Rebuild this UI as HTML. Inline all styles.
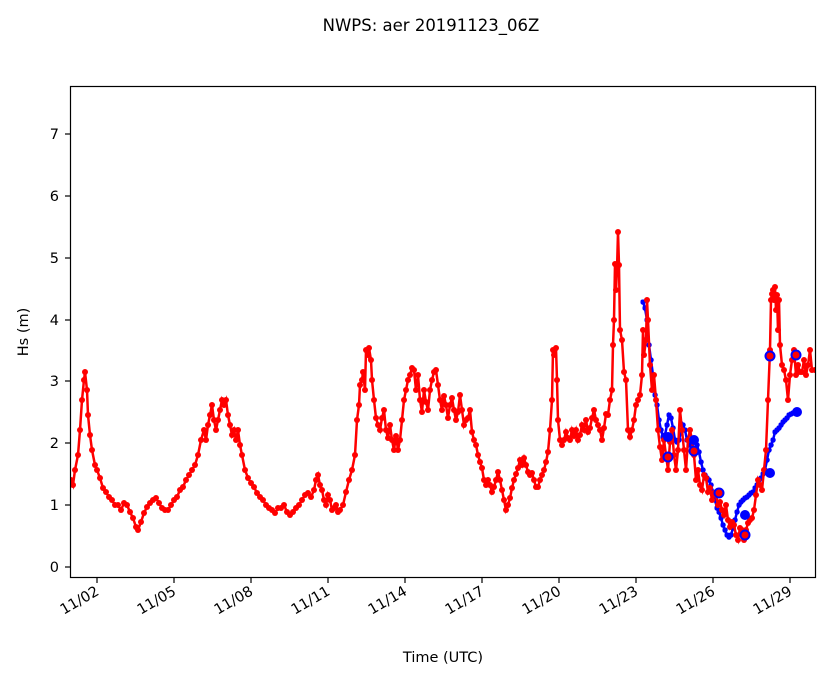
<!DOCTYPE html>
<html><head><style>body{margin:0;background:#fff}svg{display:block}text{font-family:"DejaVu Sans","Liberation Sans",sans-serif;fill:#000}</style></head><body>
<svg width="833" height="681" viewBox="0 0 833 681" xmlns="http://www.w3.org/2000/svg">
<defs>
<marker id="r" viewBox="-3 -3 6 6" markerWidth="6" markerHeight="6" markerUnits="userSpaceOnUse"><circle r="3" fill="red"/></marker>
<marker id="b" viewBox="-3 -3 6 6" markerWidth="5.5" markerHeight="5.5" markerUnits="userSpaceOnUse"><circle r="3" fill="blue"/></marker>
</defs>
<text x="431" y="31" font-size="16.5" text-anchor="middle">NWPS: aer 20191123_06Z</text>
<polyline fill="none" stroke="blue" stroke-width="2.5" marker-mid="url(#b)" marker-start="url(#b)" marker-end="url(#b)" points="643,302 645,308 647,320 649,345 651,360 653,375 655,395 657,405 659,420 661,430 663,437 665,435 667,425 669,415 671,418 673,428 675,440 677,442 679,440 681,432 683,425 685,430 687,440 689,445 691,442 693,438 695,440 697,445 699,452 701,462 703,470 705,475 707,478 709,480 711,485 713,492 715,500 717,508 719,512 721,518 723,525 725,530 727,535 729,537 731,535 733,528 735,520 737,512 739,505 741,502 743,500 745,498 747,497 749,495 751,493 753,492 755,488 757,485 759,480 761,478 763,474 765,470 767,460 769,450 771,445 773,440 775,432 777,430 779,428 781,425 783,422 785,420 787,418 789,415 791,414 793,413 797,412"/>
<polyline fill="none" stroke="red" stroke-width="2.5" marker-mid="url(#r)" marker-start="url(#r)" marker-end="url(#r)" points="71,480 73,485 75,470 78,455 80,430 82,400 84,380 85,372 87,390 88,415 90,435 92,450 95,465 97,470 100,478 103,488 106,492 109,497 112,500 115,505 118,505 121,510 124,503 127,505 130,512 133,518 136,527 138,530 141,522 144,513 147,507 150,503 153,500 156,498 159,503 162,508 165,510 168,510 171,505 174,500 177,497 180,490 183,487 186,480 189,475 192,470 195,465 198,455 201,440 204,430 206,440 208,425 210,415 212,405 214,420 216,430 218,420 220,410 222,400 224,405 226,400 228,415 230,425 232,435 234,430 236,440 238,430 240,445 242,455 245,470 248,478 251,483 254,487 257,493 260,497 263,500 266,505 269,508 272,510 275,513 278,508 281,508 284,505 287,512 290,515 293,512 296,508 299,505 302,500 305,495 308,493 311,497 314,490 316,480 318,475 320,485 322,490 324,500 326,505 328,495 330,500 332,510 334,508 336,505 338,512 340,510 343,505 346,492 349,480 352,470 355,455 357,420 359,405 360,385 362,380 363,372 365,390 366,350 368,355 369,348 371,360 372,380 374,400 376,418 378,425 380,430 382,418 384,410 386,430 388,438 390,425 392,440 394,450 396,436 398,450 400,440 402,420 404,400 406,390 408,380 410,375 412,368 414,370 416,390 418,375 420,400 422,412 424,390 426,402 428,410 430,390 432,380 434,372 436,370 438,385 440,400 442,410 444,396 446,405 448,418 450,405 452,398 454,410 456,420 458,412 460,395 462,410 464,425 466,420 468,418 470,410 472,432 474,440 476,445 478,455 480,462 482,468 484,480 486,485 488,480 490,485 492,492 494,487 496,480 498,472 500,480 502,490 504,500 506,510 508,505 510,498 512,488 514,480 516,474 518,468 520,460 522,465 524,458 526,465 528,472 530,475 532,473 534,480 536,487 538,487 540,480 542,475 544,470 546,462 548,452 550,430 552,400 553,350 554,355 556,348 557,380 558,420 560,440 562,445 564,440 566,432 568,438 570,440 572,430 574,436 576,430 578,440 580,435 582,425 584,430 586,420 588,432 590,428 592,418 594,410 596,420 598,425 600,430 602,440 604,428 606,414 608,415 610,400 612,390 613,345 614,320 615,264 616,290 617,270 618,232 619,265 620,330 622,340 624,372 626,380 628,430 630,437 632,430 634,420 636,405 638,400 640,395 642,375 643,330 644,355 646,340 647,300 648,320 650,365 652,390 654,375 656,400 658,430 660,447 662,460 664,440 666,455 668,470 670,442 672,430 674,455 676,470 678,450 680,410 682,430 684,450 686,470 688,440 690,430 692,440 694,455 696,480 698,470 700,485 702,490 704,475 706,478 708,492 710,488 712,500 714,493 716,495 718,505 720,502 722,510 724,515 726,505 728,520 730,527 732,522 734,525 736,535 738,540 740,528 742,530 744,540 746,530 748,523 750,520 752,518 754,510 756,495 758,480 760,485 762,490 764,470 766,450 768,400 770,350 771,300 772,294 773,290 774,300 775,287 776,310 777,295 778,330 779,300 780,345 782,365 784,370 786,380 788,400 790,375 792,360 794,350 796,375 798,365 800,372 802,372 804,360 806,375 808,365 810,350 812,370 815,370"/>
<g fill="blue"><circle cx="668" cy="437" r="5"/><circle cx="694" cy="440" r="5"/><circle cx="745" cy="515" r="5"/><circle cx="770" cy="473" r="5"/><circle cx="797" cy="412" r="5"/></g>
<g fill="red" stroke="blue" stroke-width="2"><circle cx="668" cy="457" r="4.5"/><circle cx="694" cy="451" r="4.5"/><circle cx="719" cy="493" r="4.5"/><circle cx="745" cy="535" r="4.5"/><circle cx="770" cy="356" r="4.5"/><circle cx="796" cy="355" r="4.5"/></g>
<rect x="0" y="0" width="70" height="681" fill="#fff"/>
<rect x="816" y="0" width="17" height="681" fill="#fff"/>
<rect x="70.5" y="86.5" width="745" height="491" fill="none" stroke="#000" stroke-width="1.2"/>
<g stroke="#000" stroke-width="1.2">
<line x1="65" x2="70" y1="567" y2="567"/><line x1="65" x2="70" y1="505" y2="505"/><line x1="65" x2="70" y1="443" y2="443"/><line x1="65" x2="70" y1="381" y2="381"/><line x1="65" x2="70" y1="320" y2="320"/><line x1="65" x2="70" y1="258" y2="258"/><line x1="65" x2="70" y1="196" y2="196"/><line x1="65" x2="70" y1="134" y2="134"/>
<line x1="97" x2="97" y1="578" y2="583"/><line x1="174" x2="174" y1="578" y2="583"/><line x1="251" x2="251" y1="578" y2="583"/><line x1="328" x2="328" y1="578" y2="583"/><line x1="405" x2="405" y1="578" y2="583"/><line x1="482" x2="482" y1="578" y2="583"/><line x1="559" x2="559" y1="578" y2="583"/><line x1="636" x2="636" y1="578" y2="583"/><line x1="713" x2="713" y1="578" y2="583"/><line x1="790" x2="790" y1="578" y2="583"/>
</g>
<g font-size="14.5" text-anchor="end">
<text x="59" y="572">0</text><text x="59" y="510">1</text><text x="59" y="448">2</text><text x="59" y="386">3</text><text x="59" y="325">4</text><text x="59" y="263">5</text><text x="59" y="201">6</text><text x="59" y="139">7</text>
</g>
<g font-size="14.5" text-anchor="end">
<text transform="translate(100,594) rotate(-30)">11/02</text><text transform="translate(177,594) rotate(-30)">11/05</text><text transform="translate(254,594) rotate(-30)">11/08</text><text transform="translate(331,594) rotate(-30)">11/11</text><text transform="translate(408,594) rotate(-30)">11/14</text><text transform="translate(485,594) rotate(-30)">11/17</text><text transform="translate(562,594) rotate(-30)">11/20</text><text transform="translate(639,594) rotate(-30)">11/23</text><text transform="translate(716,594) rotate(-30)">11/26</text><text transform="translate(793,594) rotate(-30)">11/29</text>
</g>
<text x="443" y="662" font-size="14.5" text-anchor="middle">Time (UTC)</text>
<text transform="translate(28,332) rotate(-90)" font-size="14.5" text-anchor="middle">Hs (m)</text>
</svg>
</body></html>
